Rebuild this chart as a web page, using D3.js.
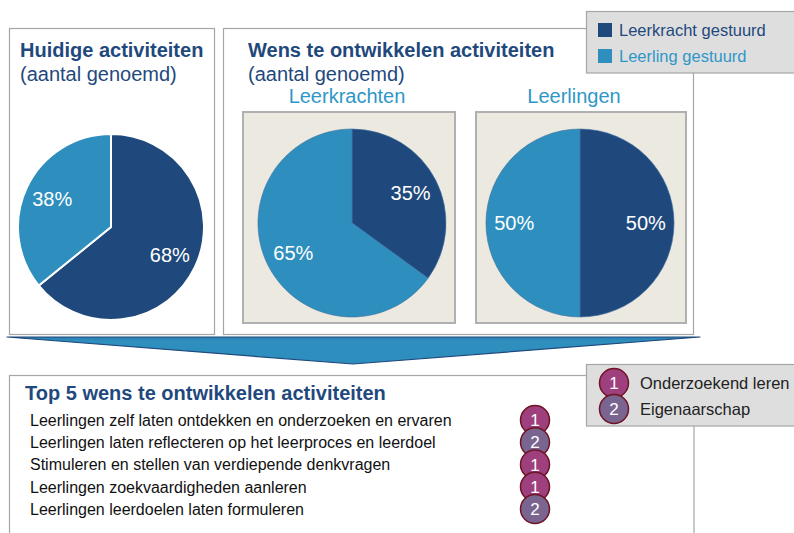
<!DOCTYPE html>
<html>
<head>
<meta charset="utf-8">
<script src="https://cdn.jsdelivr.net/npm/d3@7/dist/d3.min.js"></script>
<style>
  html, body { margin: 0; padding: 0; background: #ffffff; }
  svg { display: block; font-family: "Liberation Sans", Arial, sans-serif; }
</style>
</head>
<body>
<svg id="chart" width="794" height="533"></svg>
<script>
// ---- data ----
const seriesNames = ["Leerkracht gestuurd", "Leerling gestuurd"];
const huidigeValues = [68, 38];
const leerkrachtenValues = [35, 65];
const leerlingenValues = [50, 50];
const panelTitles = ["Huidige activiteiten", "Wens te ontwikkelen activiteiten"];
const panelSubtitle = "(aantal genoemd)";
const pieTitles = ["Leerkrachten", "Leerlingen"];
const top5Title = "Top 5 wens te ontwikkelen activiteiten";
const top5Items = [
  "Leerlingen zelf laten ontdekken en onderzoeken en ervaren",
  "Leerlingen laten reflecteren op het leerproces en leerdoel",
  "Stimuleren en stellen van verdiepende denkvragen",
  "Leerlingen zoekvaardigheden aanleren",
  "Leerlingen leerdoelen laten formuleren"
];
const top5Category = [1, 2, 1, 1, 2];
const categoryNames = ["Onderzoekend leren", "Eigenaarschap"];

// ---- styles ----
const DARK = "#1f497d";
const LIGHT = "#2e8fbe";
const seriesColor = d3.scaleOrdinal().domain(seriesNames).range([DARK, LIGHT]);
const catColor = d3.scaleOrdinal().domain([1, 2]).range(["#9e3f7e", "#7a6591"]);

const svg = d3.select("#chart");

// panel boxes
svg.append("rect").attr("x", 9.5).attr("y", 28.5).attr("width", 205).attr("height", 306)
  .attr("fill", "#fff").attr("stroke", "#a6a6a6").attr("stroke-width", 1.2);
svg.append("rect").attr("x", 223.5).attr("y", 28.5).attr("width", 470).attr("height", 306)
  .attr("fill", "#fff").attr("stroke", "#a6a6a6").attr("stroke-width", 1.2);

// inner boxes
[[243, 112, 212, 211], [476, 112, 210, 211]].forEach(b => {
  svg.append("rect").attr("x", b[0]).attr("y", b[1]).attr("width", b[2]).attr("height", b[3])
    .attr("fill", "#ece9e0").attr("stroke", "#b0b0b0").attr("stroke-width", 2);
});

// titles
svg.append("text").attr("x", 20).attr("y", 57).text(panelTitles[0])
  .attr("font-size", 20).attr("font-weight", "bold").attr("fill", DARK);
svg.append("text").attr("x", 20).attr("y", 81).text(panelSubtitle)
  .attr("font-size", 20).attr("fill", DARK);
svg.append("text").attr("x", 248).attr("y", 57).text(panelTitles[1])
  .attr("font-size", 20).attr("font-weight", "bold").attr("fill", DARK);
svg.append("text").attr("x", 248).attr("y", 81).text(panelSubtitle)
  .attr("font-size", 20).attr("fill", DARK);
svg.append("text").attr("x", 347).attr("y", 103).attr("text-anchor", "middle").text(pieTitles[0])
  .attr("font-size", 20).attr("fill", "#2f97c8");
svg.append("text").attr("x", 574).attr("y", 103).attr("text-anchor", "middle").text(pieTitles[1])
  .attr("font-size", 20).attr("fill", "#2f97c8");

// pies
const pieGen = d3.pie().sort(null).value(d => d.v);
function drawPie(values, cx, cy, r, strokeColor, strokeW) {
  const data = values.map((v, i) => ({ name: seriesNames[i], v }));
  const arcs = pieGen(data);
  const arc = d3.arc().innerRadius(0).outerRadius(r);
  const labelArc = d3.arc().innerRadius(r * 0.7).outerRadius(r * 0.7);
  const g = svg.append("g").attr("transform", `translate(${cx},${cy})`);
  g.selectAll("path").data(arcs).join("path")
    .attr("d", arc).attr("fill", d => seriesColor(d.data.name))
    .attr("stroke", strokeColor).attr("stroke-width", strokeW);
  g.selectAll("text").data(arcs).join("text")
    .attr("transform", d => `translate(${labelArc.centroid(d)})`)
    .attr("text-anchor", "middle").attr("dy", "0.36em")
    .attr("font-size", 20).attr("fill", "#ffffff")
    .text(d => d.data.v + "%");
}
drawPie(huidigeValues, 111, 227, 93, "#ffffff", 2);
drawPie(leerkrachtenValues, 352, 223, 94, "#3d6f9f", 0.6);
drawPie(leerlingenValues, 580, 223, 94, "#3d6f9f", 0.6);

// arrow
const arrowGrad = svg.append("defs").append("linearGradient").attr("id", "ag")
  .attr("x1", 0).attr("y1", 0).attr("x2", 0).attr("y2", 1);
arrowGrad.append("stop").attr("offset", "0").attr("stop-color", "#2a7fb0");
arrowGrad.append("stop").attr("offset", "0.15").attr("stop-color", "#2e8fbe");
arrowGrad.append("stop").attr("offset", "1").attr("stop-color", "#2e8fbe");
svg.append("path").attr("d", "M7,337 L700,337 L353,364 Z")
  .attr("fill", "url(#ag)").attr("stroke", DARK).attr("stroke-width", 1.2).attr("stroke-linejoin", "round");

// bottom box
svg.append("rect").attr("x", 9.5).attr("y", 375.5).attr("width", 684.5).attr("height", 170)
  .attr("fill", "#fff").attr("stroke", "#a6a6a6").attr("stroke-width", 1.2);
svg.append("text").attr("x", 25).attr("y", 400).text(top5Title)
  .attr("font-size", 20).attr("font-weight", "bold").attr("fill", DARK);

const yItem = d3.scaleLinear().domain([0, top5Items.length - 1]).range([420, 509]);
svg.selectAll("text.item").data(top5Items).join("text").attr("class", "item")
  .attr("x", 30).attr("y", (d, i) => yItem(i)).attr("dy", "0.36em")
  .attr("font-size", 16).attr("fill", "#111").text(d => d);

const badgeG = svg.selectAll("g.badge").data(top5Category).join("g").attr("class", "badge")
  .attr("transform", (d, i) => `translate(535,${yItem(i)})`);
badgeG.append("circle").attr("r", 14.5).attr("fill", d => catColor(d))
  .attr("stroke", "#6e1424").attr("stroke-width", 1.5);
badgeG.append("text").attr("text-anchor", "middle").attr("dy", "0.36em")
  .attr("font-size", 17).attr("fill", "#fff").text(d => d);

// legend 1
svg.append("rect").attr("x", 586.5).attr("y", 11.5).attr("width", 220).attr("height", 61.5)
  .attr("fill", "#dedede").attr("stroke", "#a6a6a6").attr("stroke-width", 1.2);
const leg1 = svg.selectAll("g.leg1").data(seriesNames).join("g").attr("class", "leg1")
  .attr("transform", (d, i) => `translate(598,${23 + i * 26})`);
leg1.append("rect").attr("width", 14).attr("height", 14).attr("fill", d => seriesColor(d));
leg1.append("text").attr("x", 21).attr("y", 12.5).attr("font-size", 16.5)
  .attr("fill", d => d === seriesNames[0] ? DARK : "#2f97c8").text(d => d);

// legend 2
svg.append("rect").attr("x", 586.5).attr("y", 364.5).attr("width", 220).attr("height", 61.5)
  .attr("fill", "#dedede").attr("stroke", "#a6a6a6").attr("stroke-width", 1.2);
const leg2 = svg.selectAll("g.leg2").data(categoryNames).join("g").attr("class", "leg2")
  .attr("transform", (d, i) => `translate(614,${383 + i * 26})`);
leg2.append("circle").attr("r", 14.5).attr("fill", (d, i) => catColor(i + 1))
  .attr("stroke", "#6e1424").attr("stroke-width", 1.5);
leg2.append("text").attr("text-anchor", "middle").attr("dy", "0.36em")
  .attr("font-size", 17).attr("fill", "#fff").text((d, i) => i + 1);
leg2.append("text").attr("x", 26).attr("dy", "0.36em").attr("font-size", 16.5)
  .attr("fill", "#222").text(d => d);
</script>
</body>
</html>
